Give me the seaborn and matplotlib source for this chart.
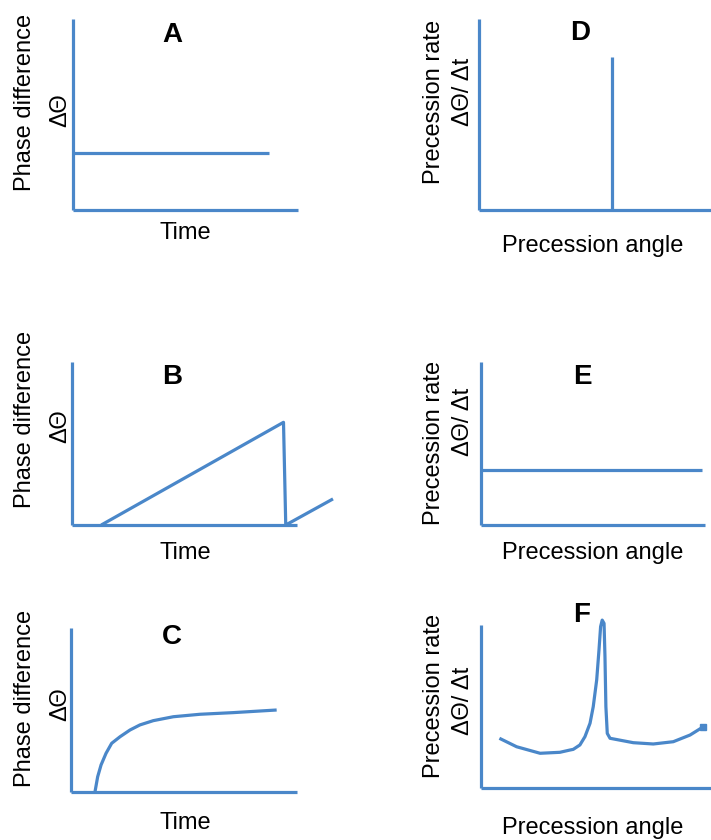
import numpy as np
import matplotlib
matplotlib.use("Agg")
import matplotlib.pyplot as plt
import seaborn as sns

# Schematic curves (arbitrary units, 0-10 on each axis)
# A: constant phase difference over time
a_time = [0.0, 8.7]
a_phase = [3.0, 3.0]

# B: sawtooth phase difference
b_time = [1.3, 9.4, 9.5, 11.6]
b_phase = [0.0, 6.3, 0.0, 1.6]

# C: phase difference saturating over time
c_time = [1.06, 1.18, 1.33, 1.55, 1.80, 2.17, 2.61, 3.05, 3.64, 4.53, 5.71, 7.18, 9.10]
c_phase = [0.0, 0.93, 1.65, 2.36, 2.97, 3.37, 3.78, 4.09, 4.35, 4.59, 4.74, 4.84, 5.0]

# D: single precession angle
d_angle = [5.75, 5.75]
d_rate = [0.0, 8.0]

# E: constant precession rate
e_angle = [0.0, 9.87]
e_rate = [3.37, 3.37]

# F: peaked precession rate
f_angle = [0.80, 1.55, 2.57, 3.43, 3.87, 4.01, 4.30, 4.52, 4.74, 4.88, 5.03, 5.13,
           5.20, 5.27, 5.35, 5.39, 5.43, 5.49, 5.61, 6.62, 7.49, 8.36, 9.09, 9.67]
f_rate = [3.05, 2.53, 2.13, 2.19, 2.33, 2.37, 2.64, 3.15, 3.97, 4.99, 6.63, 8.47,
          9.90, 10.3, 10.1, 8.06, 4.99, 3.35, 3.05, 2.78, 2.70, 2.84, 3.25, 3.76]

sns.set_theme(style="white")
plt.rcParams["font.family"] = ["Liberation Sans", "DejaVu Sans"]

W, H = 711, 840
BLUE = "#4a87c9"
LW = 2.3

fig = plt.figure(figsize=(W / 100, H / 100), dpi=100)


def rect(left, right, top, bottom):
    return [left / W, 1 - bottom / H, (right - left) / W, (bottom - top) / H]


def ftext(x, y, s, **kw):
    fig.text(x / W, 1 - y / H, s, ha="center", va="center", color="black", **kw)


def make_axes(r):
    ax = fig.add_axes(r)
    ax.set_xlim(0, 10)
    ax.set_ylim(0, 10)
    for side in ["top", "right"]:
        ax.spines[side].set_visible(False)
    for side in ["left", "bottom"]:
        ax.spines[side].set_color(BLUE)
        ax.spines[side].set_linewidth(LW)
        ax.spines[side].set_capstyle("butt")
    ax.set_xticks([])
    ax.set_yticks([])
    ax.patch.set_alpha(0)
    return ax


panels = [
    ("A", rect(73, 298, 19, 210), a_time, a_phase),
    ("B", rect(72, 297, 362, 525), b_time, b_phase),
    ("C", rect(71, 297, 628, 792), c_time, c_phase),
    ("D", rect(479, 711, 19, 210), d_angle, d_rate),
    ("E", rect(481, 705, 362, 525), e_angle, e_rate),
    ("F", rect(481, 711, 625, 788), f_angle, f_rate),
]

axes = {}
for letter, r, xs, ys in panels:
    ax = make_axes(r)
    sns.lineplot(x=xs, y=ys, ax=ax, color=BLUE, linewidth=LW, sort=False,
                 estimator=None, clip_on=False)
    for ln in ax.lines:
        ln.set_solid_joinstyle("round")
        ln.set_solid_capstyle("butt")
    axes[letter] = ax

# square end marker on F
axes["F"].plot(f_angle[-1:], f_rate[-1:], marker="s", markersize=4,
               color=BLUE, clip_on=False)

# panel letters
letter_pos = {"A": (172, 35), "B": (172, 377), "C": (172, 637),
              "D": (580, 33), "E": (582, 377), "F": (582, 615)}
for k, (x, y) in letter_pos.items():
    ftext(x, y, k, fontsize=20, fontweight="bold")

# left column labels
for y_lab, y_sym, y_time in [(102, 110, 233), (419, 426, 553), (698, 704, 823)]:
    ftext(25, y_lab, "Phase difference", fontsize=17, rotation=90)
    ftext(60, y_sym, "ΔΘ", fontsize=17, rotation=90)
    ftext(185, y_time, "Time", fontsize=17)

# right column labels
for y_lab, y_sym, y_ang in [(102, 92, 246), (443, 422, 553), (696, 701, 828)]:
    ftext(434, y_lab, "Precession rate", fontsize=17, rotation=90)
    ftext(463, y_sym, "ΔΘ/ Δt", fontsize=17, rotation=90)
    ftext(593, y_ang, "Precession angle", fontsize=17)

fig.savefig("out.png", dpi=100, facecolor="white")
